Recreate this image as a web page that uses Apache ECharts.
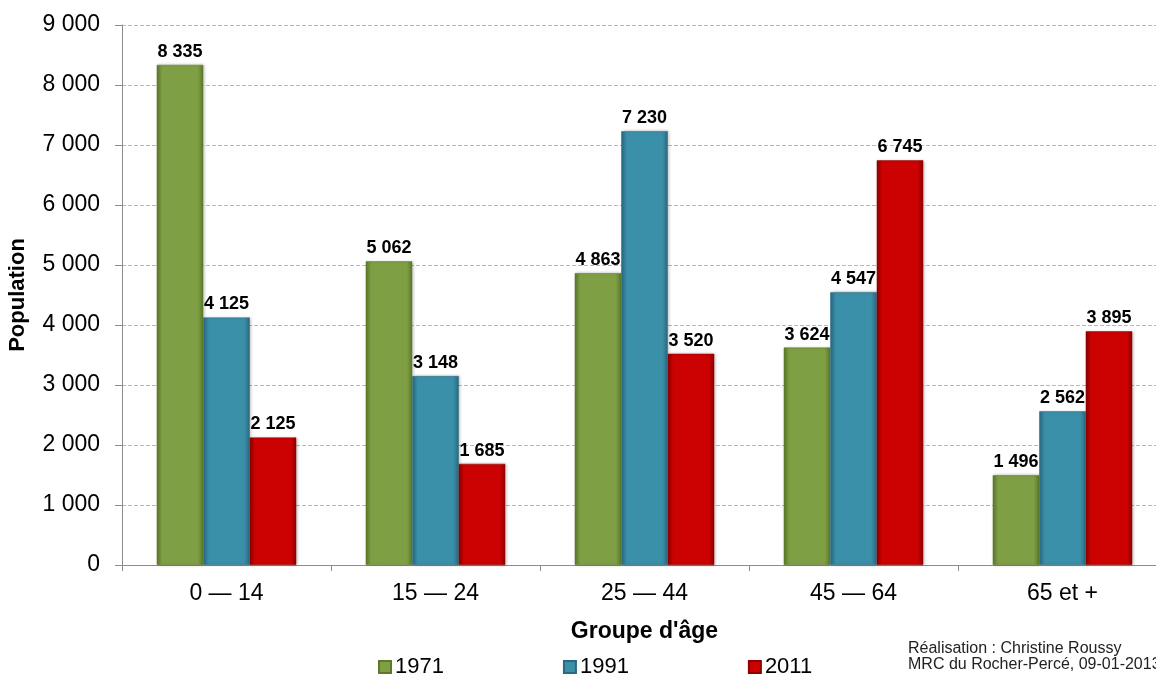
<!DOCTYPE html>
<html><head><meta charset="utf-8">
<script src="https://cdn.jsdelivr.net/npm/echarts@6/dist/echarts.min.js"></script>
<style>html,body{margin:0;padding:0;background:#fff}#c{width:1156px;height:675px}</style>
</head><body><div id="c"></div>
<script>
var categories = ['0 — 14', '15 — 24', '25 — 44', '45 — 64', '65 et +'];
var seriesNames = ['1971', '1991', '2011'];
var values1971 = [8335, 5062, 4863, 3624, 1496];
var values1991 = [4125, 3148, 7230, 4547, 2562];
var values2011 = [2125, 1685, 3520, 6745, 3895];
var yTicks = [0, 1000, 2000, 3000, 4000, 5000, 6000, 7000, 8000, 9000];

function fmt(v){ return String(v).replace(/\B(?=(\d{3})+(?!\d))/g, ' '); }
function grad(edge, mid){
  return new echarts.graphic.LinearGradient(0,0,1,0,[
    {offset:0,color:edge},{offset:0.12,color:mid},{offset:0.88,color:mid},{offset:1,color:edge}]);
}
var styles = [
  {edge:'#5c7a2a', mid:'#7f9f45'},
  {edge:'#2a6a80', mid:'#3a8fa9'},
  {edge:'#8f0000', mid:'#cc0202'}
];
var data = [values1971, values1991, values2011];
var font = 'Liberation Sans, Arial, sans-serif';
var chart = echarts.init(document.getElementById('c'));
chart.setOption({
  animation:false,
  textStyle:{fontFamily:font},
  grid:{left:122, width:1045, top:25, bottom:110, containLabel:false, outerBoundsMode:'none'},
  legend:{
    data:seriesNames, left:373, top:651, itemWidth:12, itemHeight:12, itemGap:119,
    icon:'rect',
    textStyle:{fontSize:22, color:'#000', fontFamily:font, padding:[0,0,0,-1]}
  },
  xAxis:{
    type:'category', data:categories,
    axisLine:{lineStyle:{color:'#8c8c8c', width:1}},
    axisTick:{show:true, length:6, lineStyle:{color:'#8c8c8c'}},
    axisLabel:{fontSize:23, color:'#000', margin:17},
    name:"Groupe d'âge", nameLocation:'middle', nameGap:55,
    nameTextStyle:{fontSize:23, fontWeight:'bold', color:'#000'}
  },
  yAxis:{
    type:'value', min:yTicks[0], max:yTicks[yTicks.length-1], interval:1000,
    axisLine:{show:true, lineStyle:{color:'#8c8c8c'}},
    axisTick:{show:true, length:7, lineStyle:{color:'#8c8c8c'}},
    axisLabel:{fontSize:23, color:'#000', margin:22, formatter:fmt},
    splitLine:{lineStyle:{color:'#b8b8b8', type:[4,2], width:1}},
    name:'Population', nameLocation:'middle', nameGap:93,
    nameTextStyle:{fontSize:22, fontWeight:'bold', color:'#000'}
  },
  graphic:[
    {type:'text', left:908, top:641, style:{text:'Réalisation : Christine Roussy', fill:'#222', font:'16px Liberation Sans, Arial'}},
    {type:'text', left:908, top:657, style:{text:'MRC du Rocher-Percé, 09-01-2013', fill:'#222', font:'16px Liberation Sans, Arial'}}
  ],
  series: seriesNames.map(function(n,i){
    return {
      name:n, type:'bar', data:data[i], barWidth:46.5, barGap:'0%',
      itemStyle:{color:grad(styles[i].edge, styles[i].mid), borderColor:styles[i].edge, borderWidth:0.5,
        shadowColor:'rgba(0,0,0,0.25)', shadowBlur:3, shadowOffsetX:1},
      label:{show:true, position:'top', distance:4, fontSize:18, fontWeight:'bold', color:'#000',
        formatter:function(p){return fmt(p.value);}}
    };
  })
});
</script></body></html>
